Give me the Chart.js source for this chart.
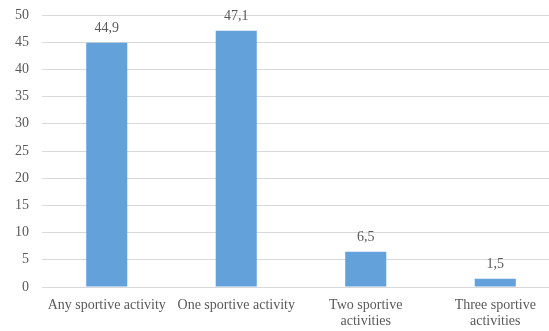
<!DOCTYPE html>
<html>
<head>
<meta charset="utf-8">
<script src="https://cdn.jsdelivr.net/npm/chart.js@4"></script>
<style>
  html, body { margin: 0; padding: 0; background: #fff; overflow: hidden; }
  #wrap { width: 560px; height: 331px; }
</style>
</head>
<body>
<div id="wrap"><canvas id="myChart" width="560" height="331"></canvas></div>
<script>
var categories = [
    'Any sportive activity',
    'One sportive activity',
    ['Two sportive', 'activities'],
    ['Three sportive', 'activities']
];
var values = [44.9, 47.1, 6.5, 1.5];
var valueLabels = ['44,9', '47,1', '6,5', '1,5'];

var textColor = '#595959';
var fontFamily = '"Liberation Serif", "Times New Roman", serif';

// labels above each bar
var barLabels = {
    id: 'barLabels',
    afterDatasetsDraw: function (chart) {
        var ctx = chart.ctx;
        var meta = chart.getDatasetMeta(0);
        ctx.save();
        ctx.fillStyle = textColor;
        ctx.font = '14px ' + fontFamily;
        ctx.textAlign = 'center';
        ctx.textBaseline = 'alphabetic';
        meta.data.forEach(function (bar, i) {
            ctx.fillText(valueLabels[i], bar.x, bar.y - 11);
        });
        ctx.restore();
    }
};

var ctx = document.getElementById('myChart').getContext('2d');
var myChart = new Chart(ctx, {
    type: 'bar',
    data: {
        labels: categories,
        datasets: [{
            data: values,
            backgroundColor: '#63A1DB',
            borderWidth: 0,
            barPercentage: 1,
            categoryPercentage: 0.317
        }]
    },
    plugins: [barLabels],
    options: {
        responsive: false,
        animation: false,
        layout: { padding: { top: 15, right: 0, bottom: 0, left: 0 } },
        plugins: {
            legend: { display: false },
            tooltip: { enabled: false }
        },
        scales: {
            x: {
                grid: { display: false },
                border: { display: false },
                ticks: {
                    color: textColor,
                    font: { family: fontFamily, size: 14, lineHeight: 1.15 },
                    padding: 2,
                    maxRotation: 0,
                    autoSkip: false
                },
                afterFit: function (s) { s.height = 44; }
            },
            y: {
                min: 0,
                max: 50,
                ticks: {
                    stepSize: 5,
                    color: textColor,
                    font: { family: fontFamily, size: 14 },
                    padding: 0
                },
                grid: { color: '#d9d9d9', lineWidth: 1, drawTicks: true, tickLength: 13, tickColor: 'rgba(0,0,0,0)' },
                border: { display: false },
                afterFit: function (s) { s.width = 42; }
            }
        }
    }
});
</script>
</body>
</html>
